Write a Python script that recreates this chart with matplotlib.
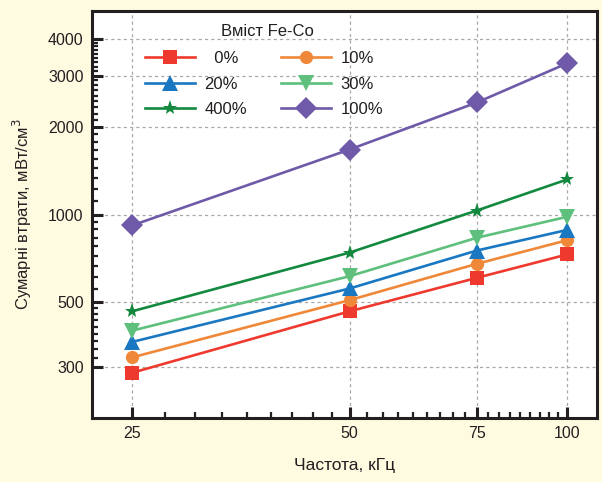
import matplotlib
matplotlib.use("Agg")
import matplotlib.pyplot as plt
from matplotlib.ticker import FixedLocator, NullFormatter, FixedFormatter
import numpy as np

plt.rcParams['font.family'] = ['Liberation Sans', 'DejaVu Sans']

freq = [25, 50, 75, 100]
series_labels = ["\u20070%", "10%", "20%", "30%", "400%", "100%"]
loss_0 = [286, 465, 606, 729]
loss_10 = [323, 508, 677, 816]
loss_20 = [365, 557, 752, 885]
loss_30 = [399, 614, 832, 982]
loss_400 = [465, 740, 1032, 1319]
loss_100 = [917, 1672, 2425, 3305]

x_ticks = [25, 50, 75, 100]
y_ticks = [300, 500, 1000, 2000, 3000, 4000]

colors = ['#ee3a2e', '#f0883a', '#1a78c2', '#5ec07c', '#13893f', '#6e5aa8']
markers = ['s', 'o', '^', 'v', '*', 'D']
msizes = [10.5, 9.5, 11, 11, 11, 11]

fig = plt.figure(figsize=(6.02, 4.82), dpi=100, facecolor='#fffbe1')
ax = fig.add_axes([92/602, 1-418/482, (597-92)/602, (418-11)/482])
ax.set_facecolor('white')

all_series = [loss_0, loss_10, loss_20, loss_30, loss_400, loss_100]
handles = []
for s, c, m, ms, lab in zip(all_series, colors, markers, msizes, series_labels):
    h, = ax.plot(freq, s, color=c, marker=m, markersize=ms, lw=1.9, label=lab,
                 markeredgewidth=0, zorder=3, clip_on=False)
    handles.append(h)

ax.set_xscale('log')
ax.set_yscale('log')
ax.set_xlim(22, 110)
ax.set_ylim(200, 5000)

ax.xaxis.set_major_locator(FixedLocator(x_ticks))
ax.xaxis.set_major_formatter(FixedFormatter([str(v) for v in x_ticks]))
xminor = []
for a, b in zip(x_ticks[:-1], x_ticks[1:]):
    xminor += list(np.linspace(a, b, 10)[1:-1])
ax.xaxis.set_minor_locator(FixedLocator(xminor))
ax.xaxis.set_minor_formatter(NullFormatter())

ax.yaxis.set_major_locator(FixedLocator(y_ticks))
ax.yaxis.set_major_formatter(FixedFormatter([str(v) for v in y_ticks]))
yminor = []
for a, b in zip(y_ticks[:-1], y_ticks[1:]):
    yminor += list(np.linspace(a, b, 10)[1:-1])
ax.yaxis.set_minor_locator(FixedLocator(yminor))
ax.yaxis.set_minor_formatter(NullFormatter())

ax.tick_params(which='major', direction='in', length=8, width=2.2, labelsize=11.5,
               color='#231f20', labelcolor='#231f20', pad=6)
ax.tick_params(which='minor', direction='in', length=4.5, width=1.6, color='#231f20')
ax.tick_params(top=False, right=False, which='both')

for sp in ax.spines.values():
    sp.set_linewidth(2.2)
    sp.set_color('#231f20')

ax.grid(True, which='major', color='#a8a8a8', linestyle=(0, (2.5, 2.5)), lw=0.9, zorder=0)
ax.set_axisbelow(True)

ax.set_xlabel('Частота, кГц', fontsize=12.5, color='#231f20', labelpad=12)
ax.set_ylabel('Сумарні втрати, мВт/см$^3$', fontsize=12, color='#231f20', labelpad=10)

order = [0, 2, 4, 1, 3, 5]
leg = ax.legend([handles[i] for i in order], [series_labels[i] for i in order],
                ncol=2, loc='upper left', bbox_to_anchor=(0.091, 0.918),
                fontsize=12, frameon=False, numpoints=1, handlelength=3.0,
                columnspacing=2.0, labelspacing=0.63, handletextpad=0.6,
                borderaxespad=0.0, borderpad=0.4)
for t in leg.get_texts():
    t.set_color('#231f20')
ax.text(0.3465, 0.949, 'Вміст Fe-Co', transform=ax.transAxes, ha='center', va='center',
        fontsize=12, color='#231f20')

fig.savefig('out.png', dpi=100, facecolor=fig.get_facecolor())
